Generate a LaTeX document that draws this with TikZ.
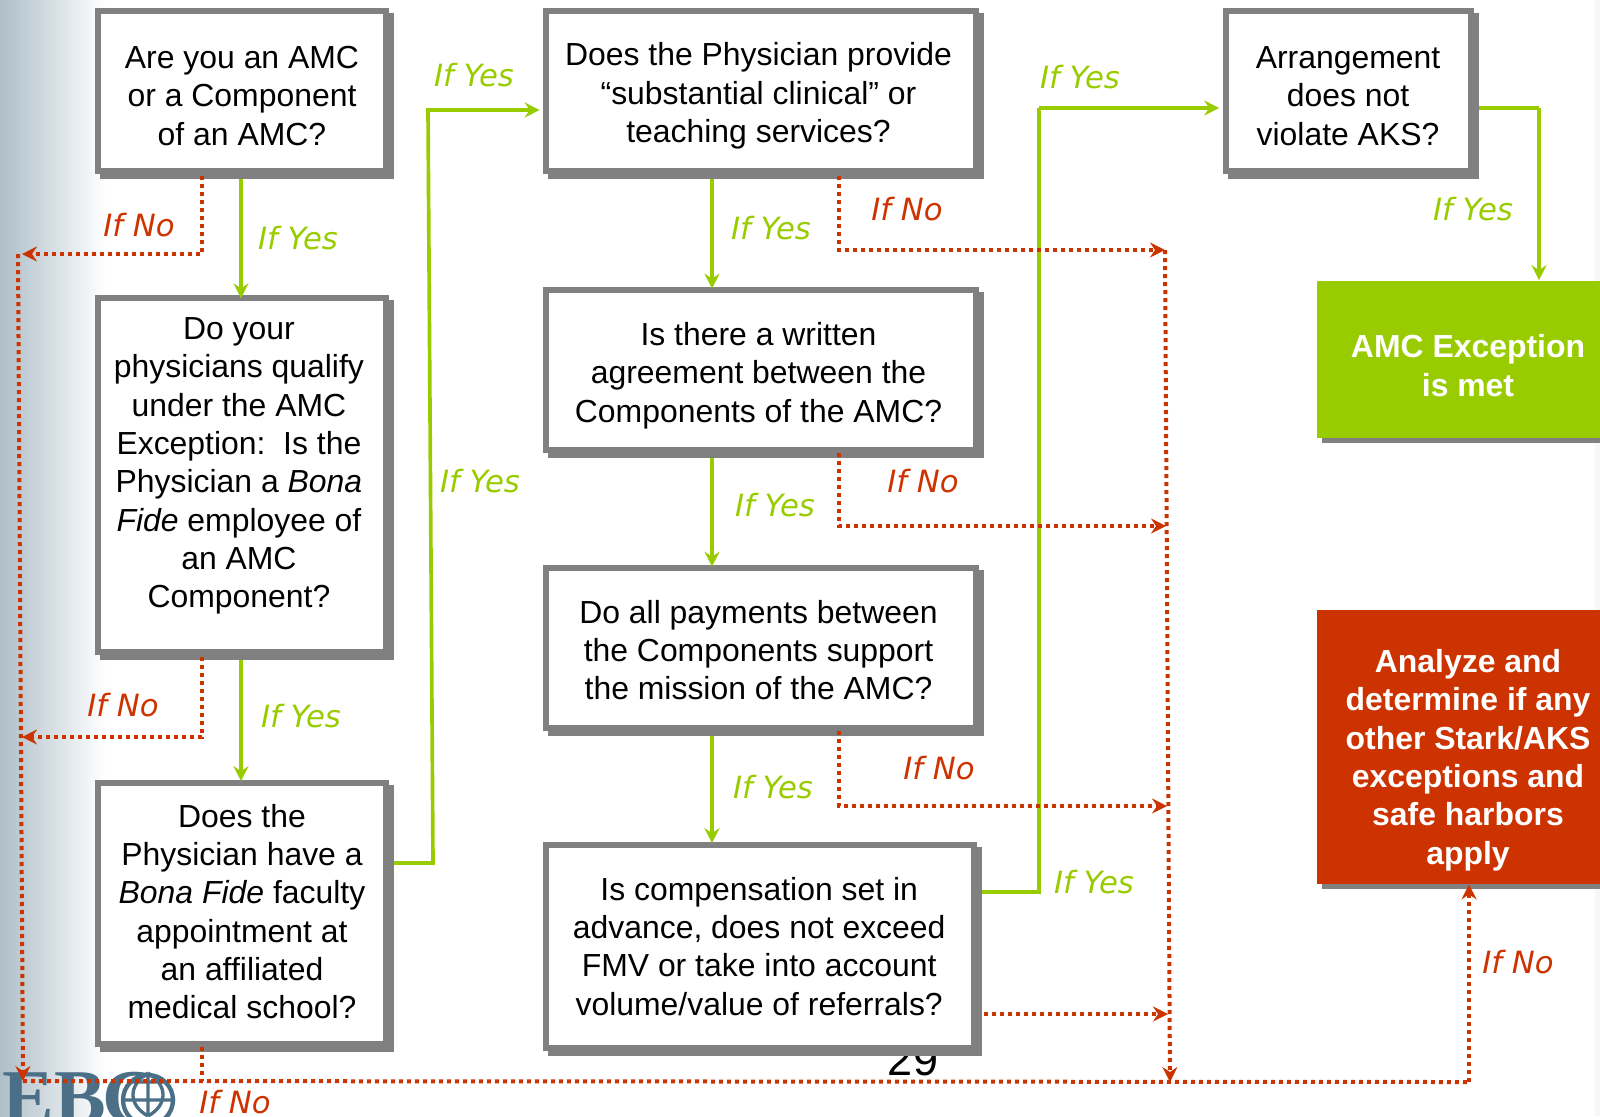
\documentclass[tikz,border=0pt]{standalone}
\usepackage{fontspec}
\setmainfont{Liberation Sans}
\newfontfamily\labelfont{DejaVu Sans}
\newfontfamily\logofont{Liberation Serif}
\usetikzlibrary{arrows.meta}
\usetikzlibrary{shadows}
\definecolor{boxgray}{HTML}{808080}
\definecolor{yesgreen}{HTML}{99CC00}
\definecolor{nored}{HTML}{CC3300}
\definecolor{sidegray}{HTML}{AEBFC8}
\definecolor{logoblue}{HTML}{4A6F86}
% text block moved off the middle of its box
\newcommand{\offtext}[3]{\makebox[0pt]{\hspace*{#1}\raisebox{#2}[0pt][0pt]{\begin{tabular}{@{}c@{}}#3\end{tabular}}}}
\tikzset{
  boxsize/.style 2 args={minimum width=#1*0.6pt, minimum height=#2*0.6pt},
  question/.style={draw=boxgray, fill=white, line width=3.6pt, inner sep=0pt,
    font=\fontsize{19.15}{23}\selectfont,
    drop shadow={shadow xshift=3pt, shadow yshift=-3pt, opacity=1, fill=boxgray, draw=boxgray}},
  outcome/.style={inner sep=0pt, text=white,
    font=\fontsize{19.15}{23}\selectfont\bfseries,
    drop shadow={shadow xshift=3pt, shadow yshift=-3pt, opacity=1, fill=boxgray}},
  yesline/.style={draw=yesgreen, line width=2.2pt, -{Stealth[length=9pt,width=9pt,inset=3pt]}},
  yesplain/.style={draw=yesgreen, line width=2.2pt},
  noline/.style={draw=nored, line width=2.4pt, dash pattern=on 2.4pt off 2.4pt,
    -{Stealth[length=9pt,width=9pt,inset=3pt]}},
  noplain/.style={draw=nored, line width=2.4pt, dash pattern=on 2.4pt off 2.4pt},
  iflabel/.style={font=\labelfont\itshape\fontsize{18.4}{20}\selectfont, inner sep=0pt},
}
\begin{document}
\begin{tikzpicture}[x=0.6pt, y=-0.6pt]
  \useasboundingbox (0,0) rectangle (1600,1116);
  % page background
  \shade[left color=sidegray, right color=white] (0,0) rectangle (106,1116);
  \fill[black!3] (1595,0) rectangle (1600,1116);
  \node (logotext) [anchor=base west, inner sep=0pt, text=logoblue, font=\logofont\bfseries\fontsize{46.5}{46.5}\selectfont] at (2,1123) {EB\kern-2pt G};
  \node (logoglobe) [circle, fill=white, draw=logoblue, line width=2.6pt, minimum size=30pt, inner sep=0pt] at (148,1100) {};
  \draw[logoblue, line width=2pt] (148,1073) -- (148,1116) (121,1100) -- (175,1100)
    (130,1082) -- (166,1082)
    (148,1073) .. controls (128,1085) and (128,1105) .. (148,1116)
    (148,1073) .. controls (168,1085) and (168,1105) .. (148,1116);
  \node (pagenum) [font=\fontsize{27}{27}\selectfont, inner sep=0pt] at (913,1060) {29};

  % left column
  \node (amcbox) [question, boxsize={288}{160}] at (242,91) {\offtext{0pt}{-10pt}{Are you an AMC\\or a Component\\of an AMC?}};
  \node (qualifybox) [question, boxsize={288}{354}] at (242,475) {\offtext{-3.7pt}{0.2pt}{Do your\\physicians qualify\\under the AMC\\Exception:\ \ Is the\\Physician a \textit{Bona}\\\textit{Fide} employee of\\an AMC\\Component?}};
  \node (facultybox) [question, boxsize={288}{261}] at (242,913) {\offtext{0pt}{-6.6pt}{Does the\\Physician have a\\\textit{Bona Fide} faculty\\appointment at\\an affiliated\\medical school?}};

  % middle column
  \node (servicebox) [question, boxsize={430}{160}] at (761,91) {\offtext{-3pt}{-8.4pt}{Does the Physician provide\\“substantial clinical” or\\teaching services?}};
  \node (writtenbox) [question, boxsize={430}{160}] at (761,370) {\offtext{-3pt}{-8.8pt}{Is there a written\\agreement between the\\Components of the AMC?}};
  \node (paymentbox) [question, boxsize={430}{160}] at (761,648) {\offtext{-3pt}{-8.7pt}{Do all payments between\\the Components support\\the mission of the AMC?}};
  \node (compbox) [question, boxsize={428}{203}] at (760,946) {\offtext{-1pt}{-7.5pt}{Is compensation set in\\advance, does not exceed\\FMV or take into account\\volume/value of referrals?}};

  % right column
  \node (aksbox) [question, boxsize={245}{160}] at (1348,91) {\offtext{0pt}{-10pt}{Arrangement\\does not\\violate AKS?}};
  \node (metbox) [outcome, fill=yesgreen, boxsize={303}{157}] at (1468,359) {\offtext{0pt}{-11.4pt}{AMC Exception\\is met}};
  \node (otherbox) [outcome, fill=nored, boxsize={303}{274}] at (1468,747) {\offtext{0pt}{-13.3pt}{Analyze and\\determine if any\\other Stark/AKS\\exceptions and\\safe harbors\\apply}};

  % corners of the lines
  \coordinate (leftyes) at (241,0);
  \coordinate (midyes) at (712,0);
  \coordinate (amcno) at (202,254);
  \coordinate (qualifyno) at (202,737);
  \coordinate (facultyno) at (202,1081);
  \coordinate (leftend) at (22,254);
  \coordinate (lefttop) at (18,254);
  \coordinate (leftmid) at (22,737);
  \coordinate (leftbot) at (23,1081);
  \coordinate (serviceno) at (839,250);
  \coordinate (writtenno) at (839,526);
  \coordinate (writtenend) at (1166,526);
  \coordinate (paymentno) at (839,806);
  \coordinate (paymentend) at (1167,806);
  \coordinate (compno) at (1168,1014);
  \coordinate (righttop) at (1165,250);
  \coordinate (rightbot) at (1170,1082);
  \coordinate (otherno) at (1469,1082);
  \coordinate (facultyup) at (433,863);
  \coordinate (serviceup) at (428,110);
  \coordinate (compside) at (1039,892);
  \coordinate (compup) at (1039,108);
  \coordinate (aksside) at (1539,108);

  % yes paths
  \draw[yesline] (amcbox.south -| leftyes) ++(0,5) -- ([yshift=-2pt]qualifybox.north -| leftyes);
  \draw[yesline] (qualifybox.south -| leftyes) ++(0,5) -- ([yshift=-1pt]facultybox.north -| leftyes);
  \draw[yesline] (facultybox.east |- facultyup) ++(5,0) -- (facultyup) -- (serviceup) -- ([xshift=-2pt]servicebox.west |- serviceup);
  \draw[yesline] (servicebox.south -| midyes) ++(0,5) -- ([yshift=-1pt]writtenbox.north -| midyes);
  \draw[yesline] (writtenbox.south -| midyes) ++(0,5) -- ([yshift=-1pt]paymentbox.north -| midyes);
  \draw[yesline] (paymentbox.south -| midyes) ++(0,5) -- ([yshift=-1pt]compbox.north -| midyes);
  \draw[yesplain] (compbox.east |- compside) ++(5,0) -- (compside) -- (compup);
  \draw[yesline] (compup) -- ([xshift=-2pt]aksbox.west |- compup);
  \draw[yesplain] (aksbox.east |- aksside) ++(5,0) -- (aksside);
  \draw[yesline] (aksside) -- (metbox.north -| aksside);

  % no paths
  \draw[noline] (amcbox.south -| amcno) ++(0,2) -- (amcno) -- (leftend);
  \draw[noline] (lefttop) -- (leftbot);
  \draw[noline] (qualifybox.south -| qualifyno) ++(0,2) -- (qualifyno) -- (leftmid);
  \draw[noplain] (facultybox.south -| facultyno) -- (facultyno);
  \draw[noplain] (leftbot) -- (otherno);
  \draw[noline] (otherno) -- (otherbox.south -| otherno);
  \draw[noline] (servicebox.south -| serviceno) ++(0,2) -- (serviceno) -- (righttop);
  \draw[noline] (writtenbox.south -| writtenno) -- (writtenno) -- (writtenend);
  \draw[noline] (paymentbox.south -| paymentno) -- (paymentno) -- (paymentend);
  \draw[noline] (compbox.east |- compno) ++(7,0) -- (compno);
  \draw[noline] (righttop) -- (rightbot);

  % labels
  \node (yesa) [iflabel, text=yesgreen] at (298,238) {If Yes};
  \node (noa) [iflabel, text=nored] at (139,225) {If No};
  \node (yesb) [iflabel, text=yesgreen] at (301,716) {If Yes};
  \node (nob) [iflabel, text=nored] at (123,705) {If No};
  \node (noc) [iflabel, text=nored] at (235,1102) {If No};
  \node (yesc) [iflabel, text=yesgreen] at (474,75) {If Yes};
  \node (yesd) [iflabel, text=yesgreen] at (480,481) {If Yes};
  \node (yese) [iflabel, text=yesgreen] at (771,228) {If Yes};
  \node (nod) [iflabel, text=nored] at (907,209) {If No};
  \node (yesf) [iflabel, text=yesgreen] at (775,505) {If Yes};
  \node (noe) [iflabel, text=nored] at (923,481) {If No};
  \node (yesg) [iflabel, text=yesgreen] at (773,787) {If Yes};
  \node (nof) [iflabel, text=nored] at (939,768) {If No};
  \node (yesh) [iflabel, text=yesgreen] at (1080,77) {If Yes};
  \node (yesi) [iflabel, text=yesgreen] at (1094,882) {If Yes};
  \node (yesj) [iflabel, text=yesgreen] at (1473,209) {If Yes};
  \node (nog) [iflabel, text=nored] at (1518,962) {If No};
\end{tikzpicture}
\end{document}
